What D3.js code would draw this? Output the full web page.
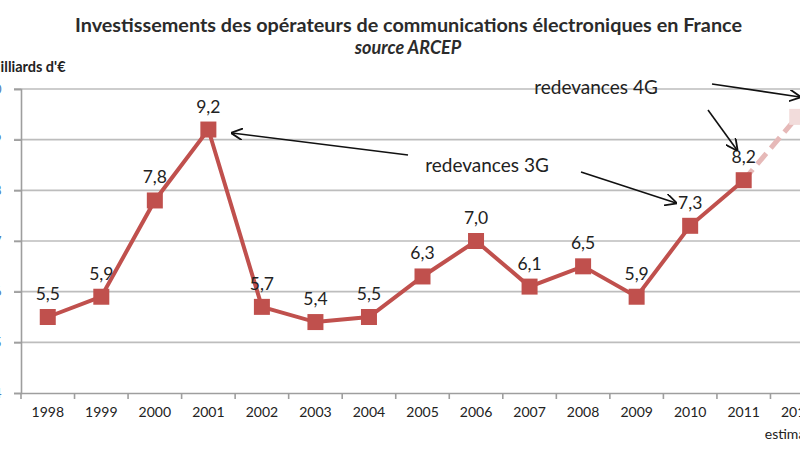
<!DOCTYPE html>
<html>
<head>
<meta charset="utf-8">
<script src="https://cdn.jsdelivr.net/npm/d3@7"></script>
<style>
  body { margin: 0; background: #fff; }
  svg { display: block; font-family: Lato, "Open Sans", sans-serif; }
</style>
</head>
<body>
<svg id="chart" width="800" height="450"></svg>
<script>
const years = ["1998","1999","2000","2001","2002","2003","2004","2005","2006","2007","2008","2009","2010","2011","2012"];
const values = [5.5, 5.9, 7.8, 9.2, 5.7, 5.4, 5.5, 6.3, 7.0, 6.1, 6.5, 5.9, 7.3, 8.2, 9.45];
const labels = ["5,5","5,9","7,8","9,2","5,7","5,4","5,5","6,3","7,0","6,1","6,5","5,9","7,3","8,2",""];
const yTicks = [4, 5, 6, 7, 8, 9, 10];

const svg = d3.select("#chart");
const x = d3.scaleBand().domain(years).range([21, 824]);
const y = d3.scaleLinear().domain([4, 10]).range([393, 89]);
const cx = d => x(d) + x.bandwidth() / 2;

// titles
svg.append("text").attr("x", 75).attr("y", 32)
  .attr("font-size", 18).attr("font-weight", "bold").attr("fill", "#2b2b2b")
  .attr("textLength", 667).attr("lengthAdjust", "spacingAndGlyphs")
  .text("Investissements des opérateurs de communications électroniques en France");
svg.append("text").attr("x", 408).attr("y", 54).attr("text-anchor", "middle")
  .attr("font-size", 18).attr("font-weight", "bold").attr("font-style", "italic").attr("fill", "#2b2b2b")
  .text("source ARCEP");
svg.append("text").attr("x", -13).attr("y", 72)
  .attr("font-size", 14.5).attr("font-weight", "bold").attr("fill", "#222")
  .text("Milliards d'€");

// gridlines
svg.append("g").selectAll("line").data(yTicks.slice(1)).join("line")
  .attr("x1", 14).attr("x2", 800).attr("y1", d => y(d)).attr("y2", d => y(d))
  .attr("stroke", "#bdbdbd").attr("stroke-width", 1.6);

// y axis
const yAxis = svg.append("g").attr("transform", "translate(21,0)")
  .call(d3.axisLeft(y).tickValues(yTicks).tickSize(7).tickPadding(12.5).tickFormat(d3.format("d")));
yAxis.select(".domain").attr("stroke", "#9e9e9e").attr("stroke-width", 1.6);
yAxis.selectAll(".tick line").attr("stroke", "#9e9e9e").attr("stroke-width", 1.6);
yAxis.selectAll(".tick text").attr("fill", "#4a7ebb").attr("font-size", 13).attr("font-family", "Lato");

// x axis
const xAxis = svg.append("g").attr("transform", "translate(0,393)")
  .call(d3.axisBottom(x).tickSize(0).tickPadding(14));
xAxis.select(".domain").attr("stroke", "#9e9e9e").attr("stroke-width", 1.6);
xAxis.selectAll(".tick text").attr("fill", "#222").attr("font-size", 14).attr("font-family", "Lato");
svg.append("g").selectAll("line").data(years).join("line")
  .attr("x1", d => x(d)).attr("x2", d => x(d)).attr("y1", 393).attr("y2", 399)
  .attr("stroke", "#9e9e9e").attr("stroke-width", 1.6);
svg.append("text").attr("x", cx("2012")).attr("y", 439).attr("text-anchor", "middle")
  .attr("font-size", 14).attr("fill", "#222").text("estimation");

// series
const pts = years.map((yr, i) => ({ yr, v: values[i], lab: labels[i] }));
const line = d3.line().x(d => cx(d.yr)).y(d => y(d.v));
svg.append("path").datum(pts.slice(13)).attr("d", line)
  .attr("fill", "none").attr("stroke", "#e6b9b8").attr("stroke-width", 5).attr("stroke-dasharray", "14,7");
svg.append("path").datum(pts.slice(0, 14)).attr("d", line)
  .attr("fill", "none").attr("stroke", "#c0504d").attr("stroke-width", 4);
svg.append("g").selectAll("rect").data(pts).join("rect")
  .attr("x", d => cx(d.yr) - 8).attr("y", d => y(d.v) - 8).attr("width", 16).attr("height", 16)
  .attr("fill", d => d.yr === "2012" ? "#f2dcdb" : "#c0504d");
svg.append("g").selectAll("text").data(pts).join("text")
  .attr("x", d => cx(d.yr)).attr("y", d => y(d.v) - 17).attr("text-anchor", "middle")
  .attr("font-size", 17.5).attr("fill", "#222").text(d => d.lab);

// annotations
const defs = svg.append("defs");
defs.append("marker").attr("id", "arr").attr("viewBox", "0 0 10 10").attr("refX", 9).attr("refY", 5)
  .attr("markerWidth", 12).attr("markerHeight", 12).attr("markerUnits", "userSpaceOnUse").attr("orient", "auto")
  .append("path").attr("d", "M0,0 L10,5 L0,10").attr("fill", "none").attr("stroke", "#111").attr("stroke-width", 1.5);

const arrows = [
  [[408, 155], [232, 133]],
  [[581, 172], [676, 203]],
  [[712, 84], [800, 97]],
  [[708, 110], [737, 150]]
];
svg.append("g").selectAll("line").data(arrows).join("line")
  .attr("x1", d => d[0][0]).attr("y1", d => d[0][1]).attr("x2", d => d[1][0]).attr("y2", d => d[1][1])
  .attr("stroke", "#111").attr("stroke-width", 1.6).attr("marker-end", "url(#arr)");

svg.append("text").attr("x", 487).attr("y", 172).attr("text-anchor", "middle")
  .attr("font-size", 19).attr("fill", "#222").text("redevances 3G");
svg.append("text").attr("x", 596).attr("y", 94).attr("text-anchor", "middle")
  .attr("font-size", 19).attr("fill", "#222").text("redevances 4G");
</script>
</body>
</html>
